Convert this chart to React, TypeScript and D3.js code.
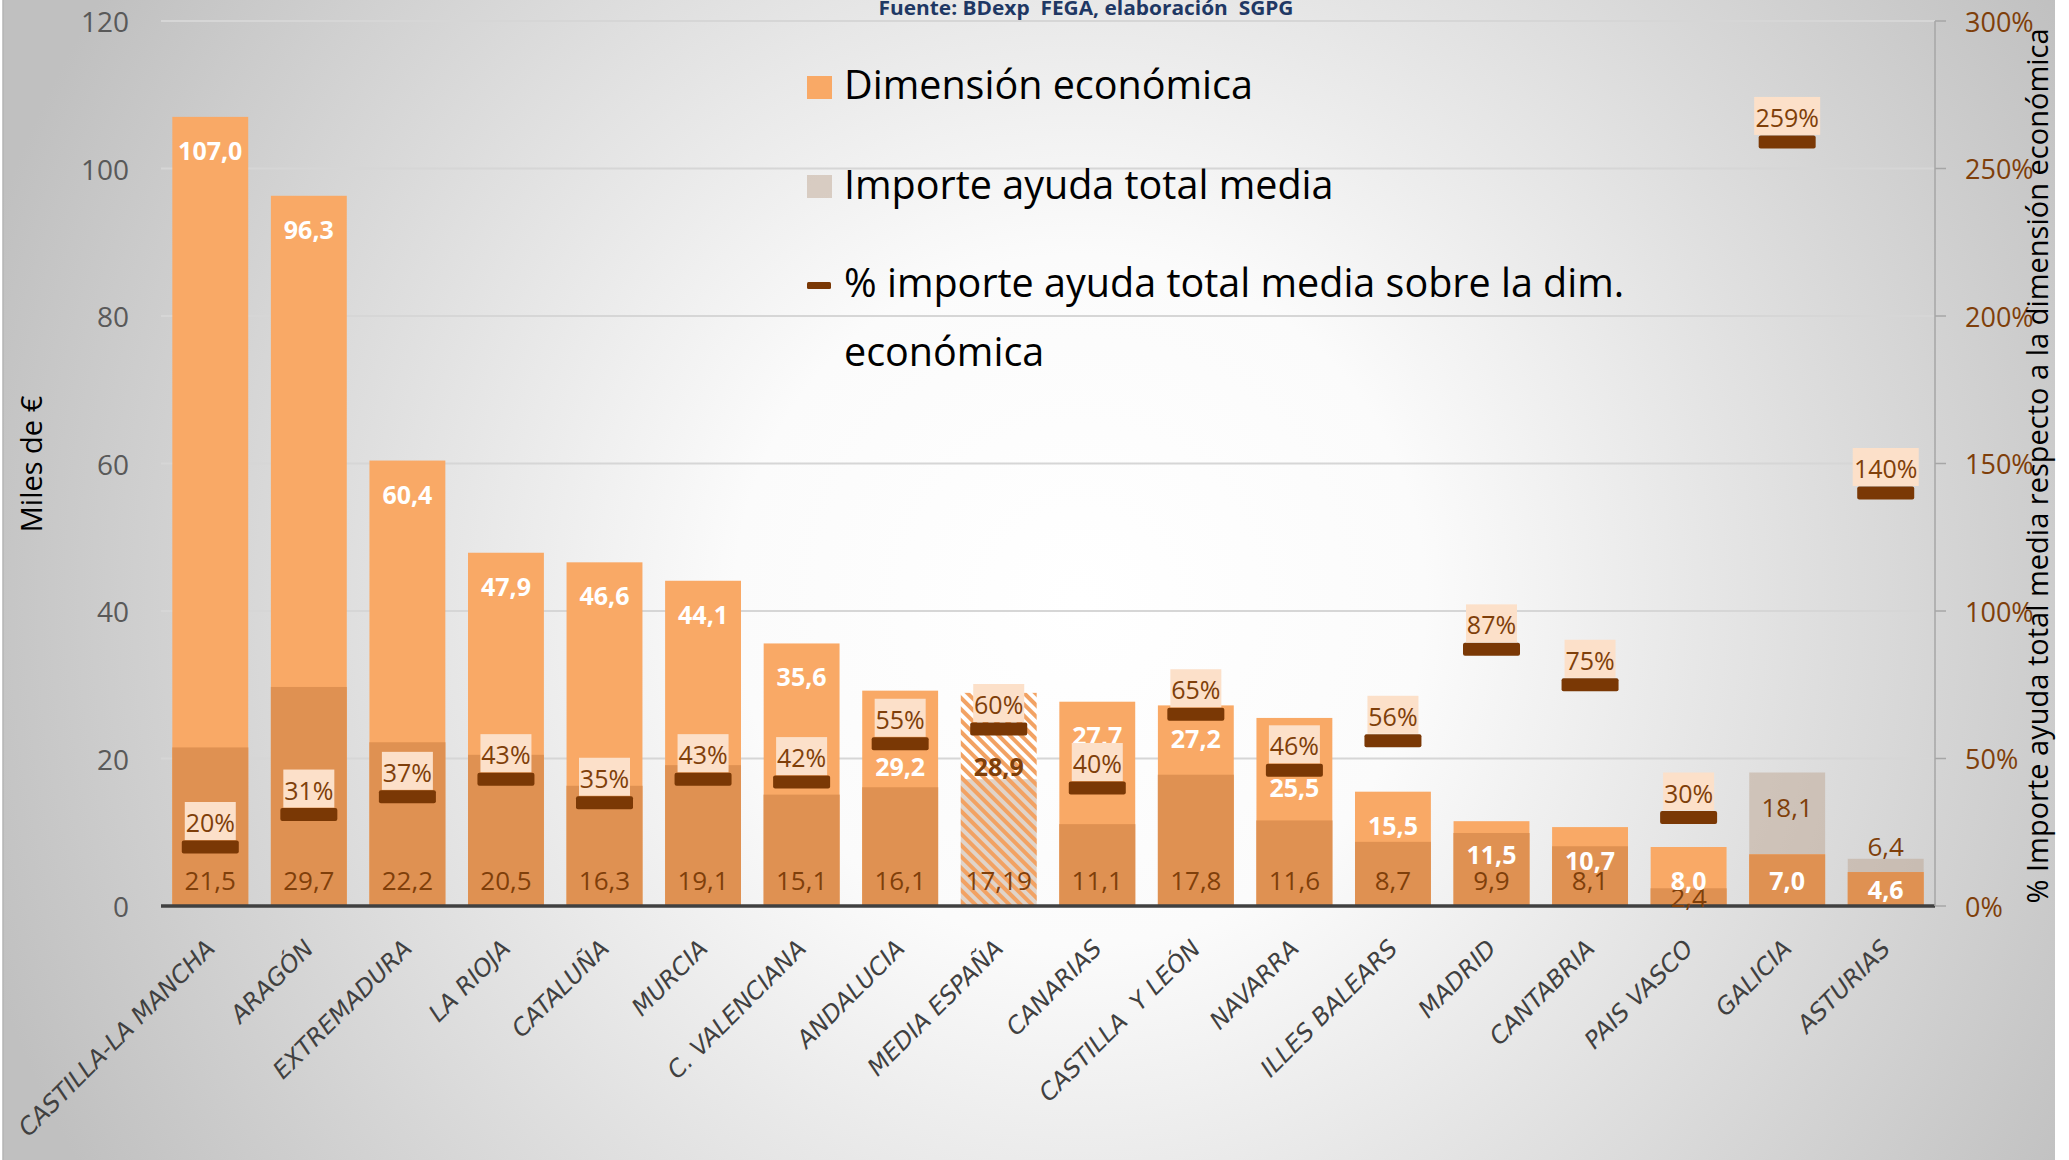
import React from "react";
import * as d3 from "d3";

const categories = [
  "CASTILLA-LA MANCHA", "ARAGÓN", "EXTREMADURA", "LA RIOJA", "CATALUÑA", "MURCIA",
  "C. VALENCIANA", "ANDALUCIA", "MEDIA ESPAÑA", "CANARIAS", "CASTILLA  Y LEÓN", "NAVARRA",
  "ILLES BALEARS", "MADRID", "CANTABRIA", "PAIS VASCO", "GALICIA", "ASTURIAS",
];
const dimension = [107.0, 96.3, 60.4, 47.9, 46.6, 44.1, 35.6, 29.2, 28.9, 27.7, 27.2, 25.5, 15.5, 11.5, 10.7, 8.0, 7.0, 4.6];
const ayuda = [21.5, 29.7, 22.2, 20.5, 16.3, 19.1, 15.1, 16.1, 17.19, 11.1, 17.8, 11.6, 8.7, 9.9, 8.1, 2.4, 18.1, 6.4];
const pct = [0.20, 0.31, 0.37, 0.43, 0.35, 0.43, 0.42, 0.55, 0.60, 0.40, 0.65, 0.46, 0.56, 0.87, 0.75, 0.30, 2.59, 1.40];
const leftTicks = [0, 20, 40, 60, 80, 100, 120];
const rightTicks = [0, 0.5, 1, 1.5, 2, 2.5, 3];
const averageCategory = "MEDIA ESPAÑA";
const legendLabels = ["Dimensión económica", "Importe ayuda total media", "% importe ayuda total media sobre la dim.", "económica"];
const sourceText = "Fuente: BDexp  FEGA, elaboración  SGPG";
const leftTitle = "Miles de €";
const rightTitle = "% Importe ayuda total media respecto a la dimensión económica";

// layout nudges for a few overlapping labels (px)
const dimLabelNudge: Record<string, number> = { "ANDALUCIA": 42, "MEDIA ESPAÑA": 40, "NAVARRA": 36 };

const W = 2069, H = 1160;
const M = { left: 161, right: 1935, top: 21, bottom: 906 };
const FONT = "'Open Sans', 'Noto Sans', sans-serif";

const C = {
  dim: "#F9A966",
  overlap: "#DF9152",
  ayuda: "rgba(186,159,137,0.45)",
  marker: "#7A3805",
  brown: "#7F3F0A",
  pctBox: "#FCE0C9",
  grid: "#D6D6D6",
  axis: "#404040",
  tick: "#595959",
  stripe: "#F2A263",
};

const fmtNum = (v: number) => {
  const s = Math.abs(v * 10 - Math.round(v * 10)) < 1e-9 ? v.toFixed(1) : v.toFixed(2);
  return s.replace(".", ",");
};
const fmtPct = d3.format(".0%");

export default function App() {
  const x = d3.scaleBand<string>().domain(categories).range([M.left, M.right]).paddingInner(0.23).paddingOuter(0.115);
  const y = d3.scaleLinear().domain([0, 120]).range([M.bottom, M.top]);
  const y2 = d3.scaleLinear().domain([0, 3]).range([M.bottom, M.top]);
  const bw = x.bandwidth();
  const y0 = y(0);

  const rows = categories.map((c, i) => ({ c, dim: dimension[i], ay: ayuda[i], p: pct[i], avg: c === averageCategory }));

  return (
    <div style={{ position: "absolute", left: 0, top: 0 }}>
      <svg width={W} height={H} style={{ display: "block" }} fontFamily={FONT}>
        <defs>
          <radialGradient id="bg" gradientUnits="userSpaceOnUse" cx={1080} cy={600} r={1150}>
            <stop offset="0" stopColor="#FFFFFF" />
            <stop offset="0.3" stopColor="#FBFBFB" />
            <stop offset="1" stopColor="#C0C0C0" />
          </radialGradient>
          <pattern id="hatch" patternUnits="userSpaceOnUse" width={8} height={8} patternTransform="rotate(-45)">
            <rect x={0} y={0} width={4} height={8} fill={C.stripe} />
          </pattern>
        </defs>
        <rect x={0} y={0} width={W} height={H} fill="#FFFFFF" />
        <rect x={3} y={0} width={2052} height={H} fill="url(#bg)" />
        <line x1={3} x2={3} y1={0} y2={H} stroke="#B5B5B5" strokeWidth={1.5} />

        {/* gridlines */}
        {leftTicks.filter((t) => t > 0).map((t) => (
          <line key={t} x1={M.left} x2={M.right} y1={y(t)} y2={y(t)} stroke={C.grid} strokeWidth={2} />
        ))}

        {/* source */}
        <text x={1086} y={15} textAnchor="middle" fontSize={20} fontWeight={700} fill="#1F3864" style={{ whiteSpace: "pre" }} textLength={415} lengthAdjust="spacingAndGlyphs">
          {sourceText}
        </text>

        {/* legend */}
        <g>
          <rect x={807} y={76} width={25} height={23} fill={C.dim} />
          <text x={844} y={99} fontSize={39.5} fill="#000">{legendLabels[0]}</text>
          <rect x={807} y={175} width={25} height={23} fill={C.ayuda} />
          <text x={844} y={199} fontSize={39.5} fill="#000">{legendLabels[1]}</text>
          <rect x={807} y={282} width={24} height={7} rx={1.5} fill={C.marker} />
          <text x={844} y={297} fontSize={39.5} fill="#000">{legendLabels[2]}</text>
          <text x={844} y={366} fontSize={39.5} fill="#000">{legendLabels[3]}</text>
        </g>

        {/* bars */}
        {rows.map((r) => {
          const bx = x(r.c)!;
          if (r.avg) {
            return (
              <g key={r.c}>
                <rect x={bx} y={y(r.dim)} width={bw} height={y0 - y(r.dim)} fill="#FFFFFF" />
                <rect x={bx} y={y(r.ay)} width={bw} height={y0 - y(r.ay)} fill={C.ayuda} />
                <rect x={bx} y={y(r.dim)} width={bw} height={y0 - y(r.dim)} fill="url(#hatch)" />
              </g>
            );
          }
          const ov = Math.min(r.dim, r.ay);
          return (
            <g key={r.c}>
              <rect x={bx} y={y(r.ay)} width={bw} height={y0 - y(r.ay)} fill={C.ayuda} />
              <rect x={bx} y={y(r.dim)} width={bw} height={y0 - y(r.dim)} fill={C.dim} />
              <rect x={bx} y={y(ov)} width={bw} height={y0 - y(ov)} fill={C.overlap} />
            </g>
          );
        })}

        {/* baseline */}
        <line x1={M.left} x2={M.right} y1={y0} y2={y0} stroke={C.axis} strokeWidth={3.5} />

        {/* left axis labels */}
        {leftTicks.map((t) => (
          <text key={t} x={129} y={y(t)} textAnchor="end" dominantBaseline="central" fontSize={28} fill={C.tick}>{t}</text>
        ))}

        {/* right axis */}
        <line x1={M.right} x2={M.right} y1={M.top} y2={M.bottom} stroke="#A6A6A6" strokeWidth={1.5} />
        {rightTicks.map((t) => (
          <g key={t}>
            <line x1={M.right} x2={M.right + 11} y1={y2(t)} y2={y2(t)} stroke="#A6A6A6" strokeWidth={1.5} />
            <text x={1965} y={y2(t)} dominantBaseline="central" fontSize={27} fill={C.brown}>{fmtPct(t)}</text>
          </g>
        ))}

        {/* ayuda labels */}
        {rows.map((r) => {
          const cx = x(r.c)! + bw / 2;
          const ya = y(r.ay);
          let cy: number;
          if (r.ay > r.dim) {
            const gap = y(r.dim) - ya;
            cy = gap > 45 ? ya + 34 : ya - 13;
          } else {
            cy = y0 - ya < 45 ? (ya + y0) / 2 : y0 - 26;
          }
          return (
            <text key={r.c} x={cx} y={cy} textAnchor="middle" dominantBaseline="central" fontSize={26} fill={C.brown}>{fmtNum(r.ay)}</text>
          );
        })}

        {/* dimension labels */}
        {rows.map((r) => {
          const cx = x(r.c)! + bw / 2;
          const yd = y(r.dim);
          let cy = y0 - yd < 45 ? (yd + y0) / 2 : Math.min(yd + 33, y0 - 26);
          cy += dimLabelNudge[r.c] || 0;
          return (
            <text key={r.c} x={cx} y={cy} textAnchor="middle" dominantBaseline="central" fontSize={25} fontWeight={700} fill={r.avg ? C.brown : "#FFFFFF"}>{fmtNum(r.dim)}</text>
          );
        })}

        {/* pct markers and labels */}
        {rows.map((r) => {
          const cx = x(r.c)! + bw / 2;
          const ym = y2(r.p);
          const label = fmtPct(r.p);
          const tw = label.length * 15 + 6;
          return (
            <g key={r.c}>
              <rect x={cx - 28.5} y={ym - 6.5} width={57} height={13} rx={2} fill={C.marker} />
              <rect x={cx - tw / 2} y={ym - 45} width={tw} height={38} fill={C.pctBox} />
              <text x={cx} y={ym - 25} textAnchor="middle" dominantBaseline="central" fontSize={25} fill={C.brown}>{label}</text>
            </g>
          );
        })}

        {/* category labels */}
        {rows.map((r) => {
          const cx = x(r.c)! + bw / 2 + 6;
          return (
            <text key={r.c} transform={`translate(${cx},950) rotate(-45)`} textAnchor="end" fontSize={24} fontStyle="italic" fontFamily="'DejaVu Sans', sans-serif" fill="#404040" style={{ whiteSpace: "pre" }}>{r.c}</text>
          );
        })}

        {/* axis titles */}
        <text transform={`translate(30,464) rotate(-90)`} textAnchor="middle" dominantBaseline="central" fontSize={29} fill="#000">{leftTitle}</text>
        <text transform={`translate(2036,466) rotate(-90)`} textAnchor="middle" dominantBaseline="central" fontSize={29} fill="#000">{rightTitle}</text>
      </svg>
    </div>
  );
}
